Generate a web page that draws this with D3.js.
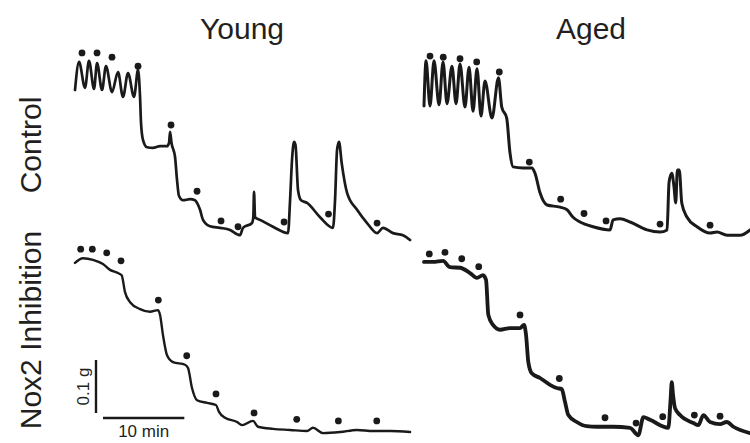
<!DOCTYPE html>
<html><head><meta charset="utf-8">
<script src="https://cdn.jsdelivr.net/npm/d3@7"></script>
<style>
body{margin:0;background:#fff}
svg{display:block}
text{font-family:"Liberation Sans",Arial,Helvetica,sans-serif;fill:#231f20}
</style>
</head><body>
<svg id="chart" width="750" height="443"></svg>
<script>
// ---- labels ----
const columnTitles = ["Young", "Aged"];
const rowTitles = ["Control", "Nox2 Inhibition"];
const scaleBarForce = 0.1;   // g
const scaleBarTime = 10;     // min
const scaleBarForceLabel = "0.1 g";
const scaleBarTimeLabel = "10 min";

// ---- traces: [time (min), force (g)] ----
const youngControl = [
  [0,0.283],[0.5,0.336],[1.23,0.287],[1.72,0.338],[2.34,0.285],[2.71,0.334],[3.32,0.283],
  [3.81,0.328],[4.55,0.279],[5.29,0.317],[5.9,0.27],[6.52,0.315],[7.26,0.27],[7.75,0.321],
  [8.0,0.27],[8.12,0.221],[8.36,0.189],[8.86,0.175],[9.59,0.174],[10.46,0.177],[11.32,0.177],
  [11.56,0.183],[11.69,0.204],[11.87,0.183],[12.3,0.157],[12.55,0.113],[12.79,0.083],[13.28,0.075],
  [14.15,0.077],[14.76,0.075],[15.01,0.07],[15.38,0.057],[15.74,0.038],[16.61,0.026],[17.84,0.023],
  [19.07,0.019],[19.93,0.011],[20.3,0.009],[20.66,0.023],[21.77,0.032],[21.93,0.043],[22.02,0.091],
  [22.14,0.043],[22.76,0.038],[24.35,0.025],[26.2,0.013],[26.45,0.075],[26.69,0.151],[26.94,0.185],
  [27.12,0.179],[27.43,0.094],[27.8,0.075],[28.54,0.07],[30.14,0.043],[31.73,0.023],[31.98,0.075],
  [32.23,0.17],[32.47,0.185],[32.8,0.145],[33.46,0.089],[34.69,0.057],[35.92,0.032],[37.15,0.013],
  [37.88,0.023],[39.11,0.013],[40.34,0.009],[41.21,0.0]
];
const youngControlStim = [
  [0.86,0.353],[2.71,0.353],[4.55,0.345],[7.75,0.328],[11.81,0.217],[15.01,0.092],
  [17.96,0.036],[20.05,0.025],[25.71,0.034],[31.18,0.049],[37.15,0.032]
];

const agedControl = [
  [0,0.253],[0.25,0.338],[0.74,0.253],[1.23,0.338],[1.85,0.255],[2.34,0.336],[2.83,0.257],
  [3.44,0.328],[3.94,0.257],[4.43,0.332],[5.04,0.251],[5.54,0.326],[6.03,0.243],[6.52,0.323],
  [7.01,0.234],[7.5,0.3],[8.36,0.23],[9.16,0.306],[9.56,0.251],[10.17,0.23],[10.58,0.164],
  [10.95,0.138],[12.18,0.136],[13.28,0.136],[13.65,0.126],[14.27,0.089],[15.13,0.066],[16.73,0.062],
  [17.59,0.057],[18.33,0.043],[19.19,0.034],[20.79,0.025],[22.88,0.019],[23.25,0.038],[24.11,0.04],
  [25.34,0.034],[27.43,0.019],[29.03,0.015],[29.89,0.019],[30.14,0.109],[30.47,0.126],[30.75,0.1],
  [30.96,0.07],[31.16,0.132],[31.4,0.132],[31.7,0.07],[32.35,0.043],[33.58,0.025],[35.18,0.013],
  [36.04,0.015],[37.27,0.009],[38.87,0.009],[40.1,0.019]
];
const agedControlStim = [
  [0.74,0.347],[2.37,0.345],[4.43,0.342],[6.48,0.336],[9.26,0.317],[12.95,0.147],
  [16.81,0.077],[19.68,0.05],[22.39,0.036],[29.03,0.03],[35.18,0.028]
];

const youngNox2 = [
  [0,0.334],[0.98,0.343],[2.21,0.34],[3.44,0.332],[4.31,0.321],[5.29,0.315],[5.74,0.311],
  [6.15,0.279],[6.77,0.26],[8.0,0.247],[9.23,0.242],[10.21,0.245],[10.46,0.236],[10.82,0.198],
  [11.32,0.16],[12.05,0.147],[13.53,0.142],[13.9,0.136],[14.39,0.098],[15.01,0.075],[16.24,0.07],
  [17.34,0.066],[17.71,0.053],[18.45,0.042],[19.93,0.034],[20.54,0.028],[21.89,0.036],[22.51,0.025],
  [24.35,0.021],[26.45,0.019],[28.54,0.017],[29.27,0.023],[30.5,0.013],[32.6,0.015],[34.69,0.019],
  [36.65,0.017],[38.75,0.017],[41.21,0.015]
];
const youngNox2Stim = [
  [0.7,0.36],[2.13,0.36],[3.9,0.353],[5.66,0.338],[10.25,0.264],[13.74,0.159],
  [17.34,0.087],[22.02,0.051],[27.27,0.039],[32.39,0.036],[37.11,0.036]
];

const agedNox2 = [
  [0,0.336],[1.11,0.336],[2.34,0.338],[3.2,0.326],[4.43,0.325],[5.66,0.315],[6.52,0.306],
  [7.26,0.311],[7.63,0.302],[7.91,0.236],[8.49,0.217],[9.35,0.208],[10.58,0.211],[11.81,0.211],
  [12.3,0.217],[12.55,0.198],[12.83,0.147],[13.25,0.126],[14.27,0.117],[15.5,0.104],[16.32,0.098],
  [16.94,0.096],[17.34,0.072],[17.75,0.047],[18.78,0.034],[20.01,0.026],[21.24,0.025],[23.28,0.025],
  [25.34,0.023],[26.36,0.009],[26.98,0.043],[27.8,0.038],[30.05,0.023],[30.32,0.075],[30.47,0.109],
  [30.63,0.085],[30.87,0.06],[31.49,0.047],[33.13,0.032],[33.74,0.028],[34.36,0.047],[35.18,0.034],
  [36.41,0.03],[37.23,0.034],[38.05,0.025],[40.1,0.013]
];
const agedNox2Stim = [
  [0.65,0.351],[2.58,0.354],[4.64,0.342],[6.73,0.327],[11.81,0.236],[16.64,0.116],
  [22.26,0.042],[26.08,0.032],[29.36,0.044],[33.25,0.047],[36.41,0.045]
];

// ---- scales ----
const timeDomain = [0, 41.2];
const forceDomain = [0, 0.4];
const xScales = [
  d3.scaleLinear().domain(timeDomain).range([75, 410]),
  d3.scaleLinear().domain(timeDomain).range([424, 759])
];
const yScales = [
  d3.scaleLinear().domain(forceDomain).range([240, 28]),
  d3.scaleLinear().domain(forceDomain).range([440, 228])
];

const panels = [
  {col:0,row:0,trace:youngControl,stim:youngControlStim,w:2.7},
  {col:1,row:0,trace:agedControl,stim:agedControlStim,w:3},
  {col:0,row:1,trace:youngNox2,stim:youngNox2Stim,w:2.4},
  {col:1,row:1,trace:agedNox2,stim:agedNox2Stim,w:3.8}
];

const svg = d3.select("#chart");
const ink = "#1a1a1a";

panels.forEach(p => {
  const x = xScales[p.col], y = yScales[p.row];
  const line = d3.line().x(d => x(d[0])).y(d => y(d[1])).curve(d3.curveMonotoneX);
  svg.append("path").datum(p.trace)
    .attr("d", line).attr("fill", "none").attr("stroke", ink)
    .attr("stroke-width", p.w).attr("stroke-linejoin", "round").attr("stroke-linecap", "round");
  svg.append("g").selectAll("circle").data(p.stim).join("circle")
    .attr("cx", d => x(d[0])).attr("cy", d => y(d[1])).attr("r", 3.4).attr("fill", ink);
});

// column titles
svg.selectAll("text.col").data(columnTitles).join("text").attr("class","col")
  .attr("x", (d,i) => i === 0 ? 242 : 591).attr("y", 39)
  .attr("text-anchor","middle").attr("font-size", 30).text(d => d);

// row titles
svg.selectAll("text.row").data(rowTitles).join("text").attr("class","row")
  .attr("transform", (d,i) => `translate(41,${i === 0 ? 145 : 330}) rotate(-90)`)
  .attr("text-anchor","middle").attr("font-size", 30).text(d => d);

// scale bars (young nox2 panel)
const yS = yScales[1], xS = xScales[0];
const barV = yS(0) - yS(scaleBarForce);
const barH = xS(scaleBarTime) - xS(0);
svg.append("line").attr("x1",96).attr("x2",96).attr("y1",413 - barV).attr("y2",413)
  .attr("stroke", ink).attr("stroke-width", 2.4);
svg.append("line").attr("x1",103).attr("x2",103 + barH).attr("y1",418).attr("y2",418)
  .attr("stroke", ink).attr("stroke-width", 2.4);
svg.append("text").attr("transform", `translate(89,${413 - barV/2}) rotate(-90)`)
  .attr("text-anchor","middle").attr("font-size", 17).text(scaleBarForceLabel);
svg.append("text").attr("x", 103 + barH/2).attr("y", 437)
  .attr("text-anchor","middle").attr("font-size", 17).text(scaleBarTimeLabel);
</script>
</body></html>
